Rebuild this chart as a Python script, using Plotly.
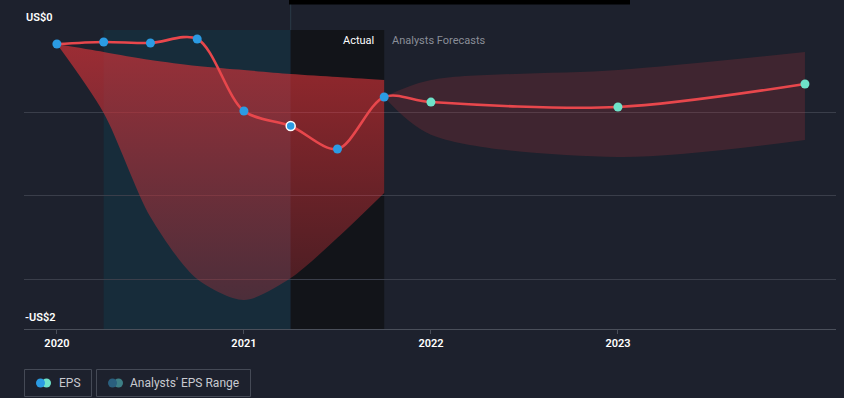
import plotly.graph_objects as go

# ---------------- data ----------------
actual_x = [2020.0, 2020.25, 2020.5, 2020.75, 2021.0, 2021.25, 2021.5, 2021.75]
actual_eps = [-0.094, -0.080, -0.087, -0.060, -0.542, -0.642, -0.796, -0.448]

forecast_x = [2021.75, 2022.0, 2023.0, 2024.0]
forecast_eps = [-0.448, -0.482, -0.515, -0.361]
forecast_hi = [-0.448, -0.335, -0.268, -0.147]
forecast_lo = [-0.448, -0.700, -0.849, -0.736]

hist_range_x = [2020.0, 2020.25, 2020.5, 2020.75, 2021.0, 2021.25, 2021.5, 2021.75]
hist_range_hi = [-0.094, -0.147, -0.201, -0.241, -0.268, -0.294, -0.314, -0.334]
hist_range_lo = [-0.094, -0.555, -1.250, -1.666, -1.806, -1.659, -1.390, -1.090]

year_ticks = [2020, 2021, 2022, 2023]
year_labels = ["2020", "2021", "2022", "2023"]
grid_vals = [0, -0.555, -1.11, -1.666]

# ---------------- layout constants ----------------
W, H = 844, 398
ML, MT = 24, 30
PW, PH = 812, 299
MR = W - ML - PW
MB = H - MT - PH

def px_x(px):
    return (px - ML) / PW

def px_y(py):
    return (MT + PH - py) / PH

BG = "#1d212d"
RED = "#e8474c"
BLUE = "#2b9be3"
TEAL = "#6ee3c9"

fig = go.Figure()

# historical analysts' range (red fan)
fig.add_trace(go.Scatter(
    x=hist_range_x, y=hist_range_lo, mode="lines",
    line=dict(width=0, shape="spline", smoothing=0.8),
    hoverinfo="skip", showlegend=False))
fig.add_trace(go.Scatter(
    x=hist_range_x, y=hist_range_hi, mode="lines",
    line=dict(width=0, shape="spline", smoothing=0.8),
    fill="tonexty",
    fillgradient=dict(type="vertical",
                      colorscale=[[0, "rgba(200,50,58,0.30)"], [1, "rgba(215,50,55,0.68)"]]),
    hoverinfo="skip", showlegend=False))

# forecast range band
fig.add_trace(go.Scatter(
    x=forecast_x, y=forecast_lo, mode="lines",
    line=dict(width=0, shape="spline", smoothing=0.9),
    hoverinfo="skip", showlegend=False))
fig.add_trace(go.Scatter(
    x=forecast_x, y=forecast_hi, mode="lines",
    line=dict(width=0, shape="spline", smoothing=0.9),
    fill="tonexty", fillcolor="rgba(200,55,60,0.20)",
    hoverinfo="skip", showlegend=False))

# EPS line
fig.add_trace(go.Scatter(
    x=actual_x + forecast_x[1:], y=actual_eps + forecast_eps[1:], mode="lines",
    line=dict(color=RED, width=2.6, shape="spline", smoothing=0.9),
    hoverinfo="skip", showlegend=False))

# markers
act_line_colors = [BLUE] * len(actual_x)
act_line_colors[5] = "white"
act_line_widths = [0] * len(actual_x)
act_line_widths[5] = 1.5
fig.add_trace(go.Scatter(
    x=actual_x, y=actual_eps, mode="markers",
    marker=dict(color=BLUE, size=9, line=dict(color=act_line_colors, width=act_line_widths)),
    hoverinfo="skip", showlegend=False))
fig.add_trace(go.Scatter(
    x=forecast_x[1:], y=forecast_eps[1:], mode="markers",
    marker=dict(color=TEAL, size=9, line=dict(width=0)),
    hoverinfo="skip", showlegend=False))

shapes = [
    dict(type="rect", xref="x", yref="y", x0=2020.25, x1=2021.25, y0=-2, y1=0,
         fillcolor="#172c3a", line=dict(width=0), layer="below"),
    dict(type="rect", xref="x", yref="y", x0=2021.25, x1=2021.75, y0=-2, y1=0,
         fillcolor="#121419", line=dict(width=0), layer="below"),
    dict(type="line", xref="x", yref="paper", x0=2021.25, x1=2021.25, y0=1, y1=px_y(0),
         line=dict(color="#2a3a48", width=1), layer="below"),
    dict(type="rect", xref="paper", yref="paper", x0=px_x(289), x1=px_x(630),
         y0=px_y(4.5), y1=px_y(0), fillcolor="#000000", line=dict(width=0)),
    dict(type="rect", xref="paper", yref="paper", x0=px_x(24.5), x1=px_x(91.5),
         y0=px_y(396.5), y1=px_y(369.5), line=dict(color="#454a56", width=1),
         fillcolor="rgba(0,0,0,0)"),
    dict(type="rect", xref="paper", yref="paper", x0=px_x(96.5), x1=px_x(250.5),
         y0=px_y(396.5), y1=px_y(369.5), line=dict(color="#454a56", width=1),
         fillcolor="rgba(0,0,0,0)"),
    dict(type="circle", xref="paper", yref="paper", x0=px_x(42), x1=px_x(51),
         y0=px_y(387.5), y1=px_y(378.5), fillcolor=TEAL, line=dict(width=0)),
    dict(type="circle", xref="paper", yref="paper", x0=px_x(36), x1=px_x(45),
         y0=px_y(387.5), y1=px_y(378.5), fillcolor=BLUE, line=dict(width=0)),
    dict(type="circle", xref="paper", yref="paper", x0=px_x(114), x1=px_x(123),
         y0=px_y(387.5), y1=px_y(378.5), fillcolor="#3d7f86", line=dict(width=0)),
    dict(type="circle", xref="paper", yref="paper", x0=px_x(108), x1=px_x(117),
         y0=px_y(387.5), y1=px_y(378.5), fillcolor="#2a5f7e", line=dict(width=0)),
]

font_fam = "Roboto, Open Sans, sans-serif"
annotations = [
    dict(text="US$0", xref="paper", yref="paper", x=px_x(24), y=px_y(17), xanchor="left",
         yanchor="middle", showarrow=False,
         font=dict(family=font_fam, size=11, color="#ffffff", weight=600)),
    dict(text="-US$2", xref="paper", yref="paper", x=px_x(23), y=px_y(317), xanchor="left",
         yanchor="middle", showarrow=False,
         font=dict(family=font_fam, size=11, color="#ffffff", weight=600)),
    dict(text="Actual", xref="paper", yref="paper", x=px_x(376), y=px_y(41), xanchor="right",
         yanchor="middle", showarrow=False,
         font=dict(family=font_fam, size=11, color="#ffffff")),
    dict(text="Analysts Forecasts", xref="paper", yref="paper", x=px_x(390), y=px_y(41),
         xanchor="left", yanchor="middle", showarrow=False,
         font=dict(family=font_fam, size=11, color="#8a8e98")),
    dict(text="EPS", xref="paper", yref="paper", x=px_x(57), y=px_y(383), xanchor="left",
         yanchor="middle", showarrow=False,
         font=dict(family=font_fam, size=12, color="#c8cad0")),
    dict(text="Analysts' EPS Range", xref="paper", yref="paper", x=px_x(128), y=px_y(383),
         xanchor="left", yanchor="middle", showarrow=False,
         font=dict(family=font_fam, size=12, color="#c8cad0")),
]

fig.update_layout(
    width=W, height=H,
    margin=dict(l=ML, r=MR, t=MT, b=MB),
    paper_bgcolor=BG, plot_bgcolor=BG,
    shapes=shapes, annotations=annotations,
    showlegend=False, hovermode=False,
    xaxis=dict(range=[2019.824, 2024.166], tickvals=year_ticks, ticktext=year_labels,
               showgrid=False, zeroline=False, showline=True, linecolor="#4a4f5a",
               linewidth=1, ticks="outside", ticklen=4, tickcolor="#4a4f5a",
               tickfont=dict(family=font_fam, size=11, color="#ffffff", weight=600),
               fixedrange=True),
    yaxis=dict(range=[-2, 0], tickvals=grid_vals, showticklabels=False,
               showgrid=True, gridcolor="#3a3e4a", gridwidth=1, zeroline=False,
               showline=False, fixedrange=True),
)

fig.write_html("out.html",
               config={"displayModeBar": False, "staticPlot": True},
               post_script="document.body.style.margin='0';document.body.style.background='%s';" % BG)
